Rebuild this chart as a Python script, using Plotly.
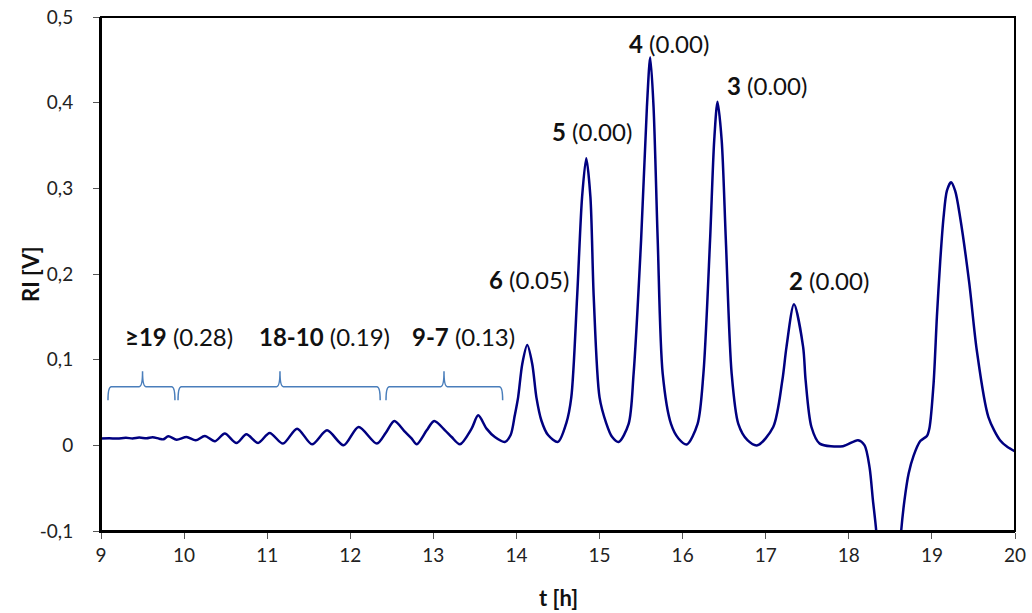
import plotly.graph_objects as go

# ---- data ----
t_h = [9.00, 9.10, 9.20, 9.30, 9.38, 9.46, 9.55, 9.62, 9.70, 9.75,
       9.81, 9.91, 10.03, 10.14, 10.25, 10.37, 10.49, 10.63, 10.75, 10.89,
       11.03, 11.19, 11.36, 11.54, 11.72, 11.92, 12.10, 12.32, 12.43, 12.53,
       12.66, 12.74, 12.80, 12.92, 13.01, 13.14, 13.22, 13.32, 13.46, 13.54,
       13.64, 13.74, 13.86, 13.93, 13.98, 14.02, 14.07, 14.13, 14.19, 14.24,
       14.30, 14.38, 14.50, 14.60, 14.66, 14.73, 14.79, 14.84, 14.89, 14.93,
       15.00, 15.08, 15.15, 15.23, 15.35, 15.41, 15.50, 15.57, 15.61, 15.65,
       15.70, 15.76, 15.86, 15.95, 16.05, 16.18, 16.25, 16.33, 16.38, 16.42,
       16.47, 16.52, 16.59, 16.67, 16.78, 16.90, 17.09, 17.20, 17.25, 17.34,
       17.45, 17.48, 17.55, 17.65, 17.93, 18.11, 18.19, 18.25, 18.29, 18.33,
       18.40, 18.48, 18.56, 18.63, 18.67, 18.72, 18.78, 18.86, 18.94, 18.97,
       19.02, 19.06, 19.10, 19.14, 19.18, 19.23, 19.28, 19.34, 19.45, 19.54,
       19.68, 19.82, 19.91, 20.00]
ri_v = [0.0080, 0.0082, 0.0080, 0.0088, 0.0080, 0.0090, 0.0082, 0.0094, 0.0078, 0.0070,
        0.0105, 0.0066, 0.0097, 0.0058, 0.0110, 0.0047, 0.0137, 0.0027, 0.0128, 0.0027,
        0.0144, 0.0020, 0.0195, 0.0012, 0.0175, 0.0000, 0.0214, 0.0020, 0.0150, 0.0284,
        0.0156, 0.0078, 0.0012, 0.0175, 0.0284, 0.0175, 0.0097, 0.0012, 0.0195, 0.0350,
        0.0195, 0.0097, 0.0040, 0.0120, 0.0350, 0.0560, 0.0950, 0.1170, 0.0950, 0.0560,
        0.0290, 0.0120, 0.0040, 0.0260, 0.0560, 0.1730, 0.2900, 0.3350, 0.2900, 0.1730,
        0.0560, 0.0260, 0.0100, 0.0040, 0.0250, 0.0837, 0.2395, 0.3950, 0.4530, 0.3950,
        0.2395, 0.0837, 0.0250, 0.0080, 0.0010, 0.0250, 0.0837, 0.2395, 0.3560, 0.4010,
        0.3560, 0.2395, 0.0837, 0.0250, 0.0060, 0.0000, 0.0214, 0.0760, 0.1150, 0.1647,
        0.1150, 0.0760, 0.0214, 0.0020, -0.0010, 0.0060, 0.0000, -0.0260, -0.0640, -0.1000,
        -0.2000, -0.2400, -0.2000, -0.1000, -0.0640, -0.0330, -0.0120, 0.0050, 0.0110, 0.0200,
        0.0720, 0.1500, 0.2150, 0.2660, 0.2970, 0.3070, 0.2970, 0.2660, 0.1890, 0.1110,
        0.0330, 0.0060, -0.0020, -0.0070]

# peak labels (oligomer number, value in parentheses, label anchor)
peak_ids = ["6", "5", "4", "3", "2"]
peak_vals = ["(0.05)", "(0.00)", "(0.00)", "(0.00)", "(0.00)"]
peak_lab_t = [14.147, 14.905, 15.835, 17.02, 17.757]
peak_lab_ri = [0.1934, 0.3665, 0.469, 0.4195, 0.1926]

# grouped ranges with braces
group_ids = ["\u226519", "18-10", "9-7"]
group_vals = ["(0.28)", "(0.19)", "(0.13)"]
group_lab_t = [9.941, 11.686, 13.36]
group_lab_ri = [0.1265, 0.1265, 0.1265]
brace_start = [9.084, 9.927, 12.43]
brace_end = [9.89, 12.36, 13.834]
brace_mid = [9.50, 11.154, 13.128]
brace_tip_ri = 0.0525
brace_bar_ri = 0.0685
brace_top_ri = 0.0864

x_ticks = list(range(9, 21))
y_ticks = [-0.1, 0.0, 0.1, 0.2, 0.3, 0.4, 0.5]
y_ticktext = ["-0,1", "0", "0,1", "0,2", "0,3", "0,4", "0,5"]

FONT = "Lato, 'Open Sans', sans-serif"
LABEL_SIZE = 24
TICK_SIZE = 19
TITLE_SIZE = 22

fig = go.Figure()
fig.add_trace(go.Scatter(
    x=t_h, y=ri_v, mode="lines",
    line=dict(color="#000080", width=2.5, shape="spline", smoothing=0.8),
    hoverinfo="x+y", showlegend=False))

shapes = []
r = 0.04
for x0, x1, xm in zip(brace_start, brace_end, brace_mid):
    path = (f"M {x0},{brace_tip_ri} Q {x0},{brace_bar_ri} {x0 + r},{brace_bar_ri} "
            f"L {xm - r},{brace_bar_ri} Q {xm},{brace_bar_ri} {xm},{brace_top_ri} "
            f"Q {xm},{brace_bar_ri} {xm + r},{brace_bar_ri} "
            f"L {x1 - r},{brace_bar_ri} Q {x1},{brace_bar_ri} {x1},{brace_tip_ri}")
    shapes.append(dict(type="path", xref="x", yref="y", path=path,
                       line=dict(color="#4a7ebb", width=1.5)))
# plot frame
shapes.append(dict(type="rect", xref="paper", yref="paper", x0=0, x1=1, y0=0, y1=1,
                   line=dict(color="black", width=2), layer="above"))

annotations = []
for pid, pv, xt, yt in zip(peak_ids, peak_vals, peak_lab_t, peak_lab_ri):
    annotations.append(dict(x=xt, y=yt, xref="x", yref="y", showarrow=False,
                            text=f"<b>{pid}</b> {pv}",
                            font=dict(family=FONT, size=LABEL_SIZE, color="#111111")))
for gid, gv, xt, yt in zip(group_ids, group_vals, group_lab_t, group_lab_ri):
    annotations.append(dict(x=xt, y=yt, xref="x", yref="y", showarrow=False,
                            text=f"<b>{gid}</b> {gv}",
                            font=dict(family=FONT, size=LABEL_SIZE, color="#111111")))
# axis titles
annotations.append(dict(x=14.5, y=0, xref="x", yref="paper", yanchor="middle",
                        yshift=-66, showarrow=False, text="<b>t [h]</b>",
                        font=dict(family=FONT, size=TITLE_SIZE, color="#111111")))
annotations.append(dict(x=0, y=0.2, xref="paper", yref="y", xanchor="center",
                        xshift=-71, showarrow=False, text="<b>RI [V]</b>",
                        textangle=-90,
                        font=dict(family=FONT, size=TITLE_SIZE, color="#111111")))

fig.update_layout(
    width=1032, height=613,
    margin=dict(l=101, r=17, t=17, b=82, autoexpand=False),
    paper_bgcolor="white", plot_bgcolor="white",
    font=dict(family=FONT, size=TICK_SIZE, color="#222222"),
    shapes=shapes, annotations=annotations,
    xaxis=dict(range=[9, 20], tickvals=x_ticks, showgrid=False, zeroline=False,
               showline=True, linecolor="black", linewidth=2,
               ticks="outside", ticklen=6, tickcolor="#555555", tickwidth=1,
               tickfont=dict(size=TICK_SIZE), ticklabelstandoff=0,
               ticklabeloverflow="allow", automargin=False),
    yaxis=dict(range=[-0.1, 0.5], tickvals=y_ticks, ticktext=y_ticktext,
               showgrid=False, zeroline=False,
               showline=True, linecolor="black", linewidth=2,
               ticks="outside", ticklen=6, tickcolor="#555555", tickwidth=1,
               tickfont=dict(size=TICK_SIZE), ticklabelstandoff=16,
               ticklabeloverflow="allow", automargin=False),
)

# remove the browser's default 8 px body margin so the figure fills the window
fig.write_html("out.html",
               config={"displayModeBar": False},
               post_script="document.body.style.margin='0';"
                           "document.body.style.overflow='hidden';")
